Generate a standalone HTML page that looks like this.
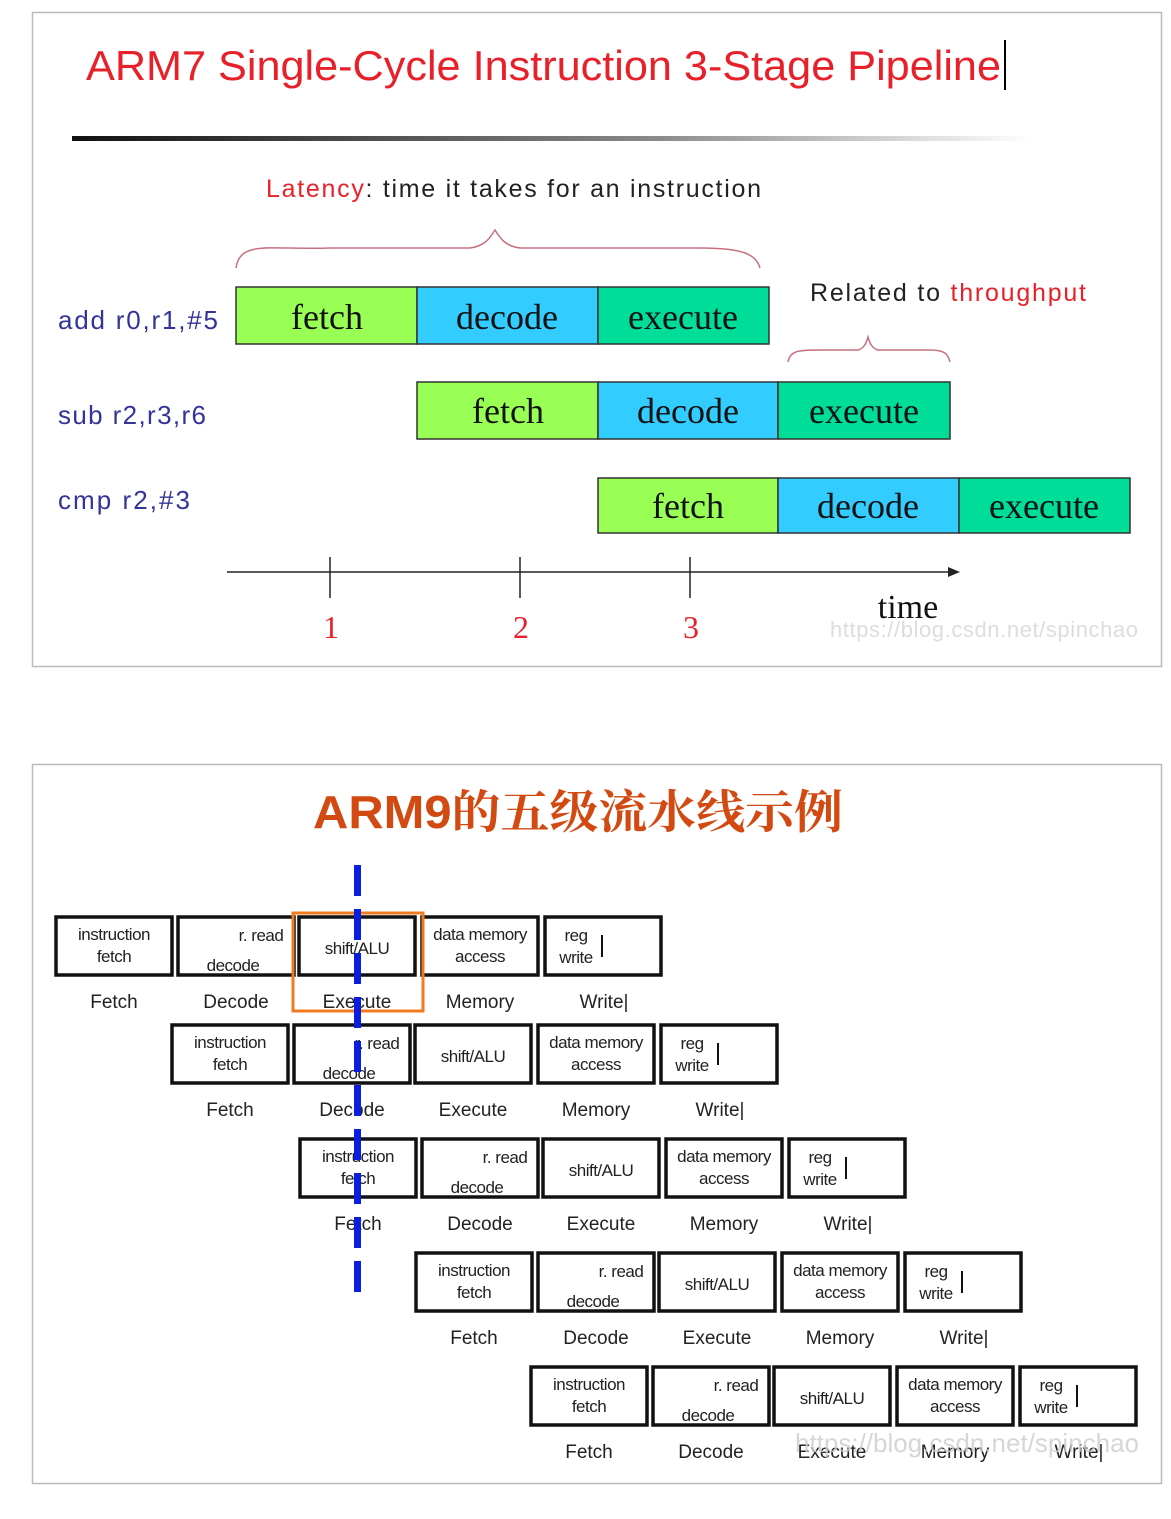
<!DOCTYPE html>
<html><head><meta charset="utf-8"><style>
html,body{margin:0;padding:0;background:#fff;}
svg{display:block;}
.b{fill:#fff;stroke:#111;stroke-width:3.5;}
.t{font-family:"Liberation Sans",sans-serif;font-size:17px;fill:#222;text-anchor:middle;letter-spacing:-0.5px;}
.l{font-family:"Liberation Sans",sans-serif;font-size:19px;fill:#222;text-anchor:middle;}
.s{font-family:"Liberation Serif",serif;font-size:36px;fill:#111;text-anchor:middle;}
.lab{font-family:"Liberation Sans",sans-serif;font-size:26px;fill:#333399;}
</style></head><body>
<svg width="1171" height="1519" viewBox="0 0 1171 1519" xmlns="http://www.w3.org/2000/svg">
<defs>
<linearGradient id="g" x1="0" x2="1"><stop offset="0" stop-color="#111"/><stop offset="0.6" stop-color="#888"/><stop offset="1" stop-color="#fff"/></linearGradient>
</defs>
<rect x="32.5" y="12.5" width="1129" height="654" fill="#fff" stroke="#bbb" stroke-width="1.5"/>
<text x="86" y="80" font-family="Liberation Sans,sans-serif" font-size="42" fill="#e8202a" textLength="915" lengthAdjust="spacingAndGlyphs">ARM7 Single-Cycle Instruction 3-Stage Pipeline</text>
<line x1="1005" y1="40" x2="1005" y2="90" stroke="#000" stroke-width="2"/>
<rect x="72" y="136" width="960" height="5" fill="url(#g)"/>
<text x="266" y="197" font-family="Liberation Sans,sans-serif" font-size="25" fill="#222" textLength="495" lengthAdjust="spacing"><tspan fill="#e8202a">Latency</tspan>: time it takes for an instruction</text>
<path d="M236 268 C240 240,270 250,330 248 L470 248 C485 246,490 238,495 230 C500 238,505 246,520 248 L700 248 C745 248,756 255,760 268" fill="none" stroke="#c87080" stroke-width="1.5"/>
<text x="810" y="301" font-family="Liberation Sans,sans-serif" font-size="25" fill="#222" textLength="276" lengthAdjust="spacing">Related to <tspan fill="#e8202a">throughput</tspan></text>
<path d="M788 362 C790 350,800 350,820 350 L858 350 C864 348,866 344,868 337 C870 344,872 348,878 350 L930 350 C945 350,948 354,950 362" fill="none" stroke="#c87080" stroke-width="1.5"/>
<g stroke="#333" stroke-width="1.5">
<rect x="236" y="287" width="181" height="57" fill="#99ff55"/><rect x="417" y="287" width="181" height="57" fill="#33ccff"/><rect x="598" y="287" width="171" height="57" fill="#00dd99"/>
<rect x="417" y="382" width="181" height="57" fill="#99ff55"/><rect x="598" y="382" width="180" height="57" fill="#33ccff"/><rect x="778" y="382" width="172" height="57" fill="#00dd99"/>
<rect x="598" y="478" width="180" height="55" fill="#99ff55"/><rect x="778" y="478" width="181" height="55" fill="#33ccff"/><rect x="959" y="478" width="171" height="55" fill="#00dd99"/>
</g>
<text class="s" x="327" y="329">fetch</text><text class="s" x="507" y="329" fill="#113">decode</text><text class="s" x="683" y="329">execute</text>
<text class="s" x="508" y="423">fetch</text><text class="s" x="688" y="423">decode</text><text class="s" x="864" y="423">execute</text>
<text class="s" x="688" y="518">fetch</text><text class="s" x="868" y="518">decode</text><text class="s" x="1044" y="518">execute</text>
<text class="lab" x="58" y="329" textLength="160">add r0,r1,#5</text>
<text class="lab" x="58" y="424" textLength="148">sub r2,r3,r6</text>
<text class="lab" x="58" y="509" textLength="132">cmp r2,#3</text>
<line x1="227" y1="572" x2="950" y2="572" stroke="#222" stroke-width="1.5"/>
<polygon points="960,572 948,567 948,577" fill="#222"/>
<g stroke="#222" stroke-width="1.5"><line x1="330" y1="557" x2="330" y2="598"/><line x1="520" y1="557" x2="520" y2="598"/><line x1="690" y1="557" x2="690" y2="598"/></g>
<g font-family="Liberation Serif,serif" font-size="32" fill="#e8202a" text-anchor="middle"><text x="331" y="638">1</text><text x="521" y="638">2</text><text x="691" y="638">3</text></g>
<text x="908" y="618" font-family="Liberation Serif,serif" font-size="34" fill="#111" text-anchor="middle">time</text>
<text x="830" y="637" font-family="Liberation Sans,sans-serif" font-size="22" fill="#ddd" textLength="308">https://blog.csdn.net/spinchao</text>

<rect x="32.5" y="764.5" width="1129" height="719" fill="#fff" stroke="#bbb" stroke-width="1.5"/>
<text x="313" y="828" font-family="Liberation Sans,'Noto Serif CJK SC',serif" font-size="46" font-weight="bold" fill="#d24a12" textLength="530" lengthAdjust="spacingAndGlyphs">ARM9<tspan font-family="'Noto Serif CJK SC',serif">的五级流水线示例</tspan></text>

<g transform="translate(56,917)">
<rect class="b" x="0" y="0" width="116" height="58"/><text class="t" x="58" y="23">instruction</text><text class="t" x="58" y="45">fetch</text><text class="l" x="58" y="91">Fetch</text>
<rect class="b" x="122" y="0" width="116" height="58"/><text class="t" x="177" y="54">decode</text><text class="t" x="205" y="24">r. read</text><text class="l" x="180" y="91">Decode</text>
<rect class="b" x="243" y="0" width="116" height="58"/><text class="t" x="301" y="37">shift/ALU</text><text class="l" x="301" y="91">Execute</text>
<rect class="b" x="366" y="0" width="116" height="58"/><text class="t" x="424" y="23">data memory</text><text class="t" x="424" y="45">access</text><text class="l" x="424" y="91">Memory</text>
<rect class="b" x="489" y="0" width="116" height="58"/><text class="t" x="520" y="24">reg</text><text class="t" x="520" y="46">write</text><line x1="546" y1="18" x2="546" y2="40" stroke="#111" stroke-width="2"/><text class="l" x="548" y="91">Write|</text>
</g>
<g transform="translate(172,1025)">
<rect class="b" x="0" y="0" width="116" height="58"/><text class="t" x="58" y="23">instruction</text><text class="t" x="58" y="45">fetch</text><text class="l" x="58" y="91">Fetch</text>
<rect class="b" x="122" y="0" width="116" height="58"/><text class="t" x="177" y="54">decode</text><text class="t" x="205" y="24">r. read</text><text class="l" x="180" y="91">Decode</text>
<rect class="b" x="243" y="0" width="116" height="58"/><text class="t" x="301" y="37">shift/ALU</text><text class="l" x="301" y="91">Execute</text>
<rect class="b" x="366" y="0" width="116" height="58"/><text class="t" x="424" y="23">data memory</text><text class="t" x="424" y="45">access</text><text class="l" x="424" y="91">Memory</text>
<rect class="b" x="489" y="0" width="116" height="58"/><text class="t" x="520" y="24">reg</text><text class="t" x="520" y="46">write</text><line x1="546" y1="18" x2="546" y2="40" stroke="#111" stroke-width="2"/><text class="l" x="548" y="91">Write|</text>
</g>
<g transform="translate(300,1139)">
<rect class="b" x="0" y="0" width="116" height="58"/><text class="t" x="58" y="23">instruction</text><text class="t" x="58" y="45">fetch</text><text class="l" x="58" y="91">Fetch</text>
<rect class="b" x="122" y="0" width="116" height="58"/><text class="t" x="177" y="54">decode</text><text class="t" x="205" y="24">r. read</text><text class="l" x="180" y="91">Decode</text>
<rect class="b" x="243" y="0" width="116" height="58"/><text class="t" x="301" y="37">shift/ALU</text><text class="l" x="301" y="91">Execute</text>
<rect class="b" x="366" y="0" width="116" height="58"/><text class="t" x="424" y="23">data memory</text><text class="t" x="424" y="45">access</text><text class="l" x="424" y="91">Memory</text>
<rect class="b" x="489" y="0" width="116" height="58"/><text class="t" x="520" y="24">reg</text><text class="t" x="520" y="46">write</text><line x1="546" y1="18" x2="546" y2="40" stroke="#111" stroke-width="2"/><text class="l" x="548" y="91">Write|</text>
</g>
<g transform="translate(416,1253)">
<rect class="b" x="0" y="0" width="116" height="58"/><text class="t" x="58" y="23">instruction</text><text class="t" x="58" y="45">fetch</text><text class="l" x="58" y="91">Fetch</text>
<rect class="b" x="122" y="0" width="116" height="58"/><text class="t" x="177" y="54">decode</text><text class="t" x="205" y="24">r. read</text><text class="l" x="180" y="91">Decode</text>
<rect class="b" x="243" y="0" width="116" height="58"/><text class="t" x="301" y="37">shift/ALU</text><text class="l" x="301" y="91">Execute</text>
<rect class="b" x="366" y="0" width="116" height="58"/><text class="t" x="424" y="23">data memory</text><text class="t" x="424" y="45">access</text><text class="l" x="424" y="91">Memory</text>
<rect class="b" x="489" y="0" width="116" height="58"/><text class="t" x="520" y="24">reg</text><text class="t" x="520" y="46">write</text><line x1="546" y1="18" x2="546" y2="40" stroke="#111" stroke-width="2"/><text class="l" x="548" y="91">Write|</text>
</g>
<g transform="translate(531,1367)">
<rect class="b" x="0" y="0" width="116" height="58"/><text class="t" x="58" y="23">instruction</text><text class="t" x="58" y="45">fetch</text><text class="l" x="58" y="91">Fetch</text>
<rect class="b" x="122" y="0" width="116" height="58"/><text class="t" x="177" y="54">decode</text><text class="t" x="205" y="24">r. read</text><text class="l" x="180" y="91">Decode</text>
<rect class="b" x="243" y="0" width="116" height="58"/><text class="t" x="301" y="37">shift/ALU</text><text class="l" x="301" y="91">Execute</text>
<rect class="b" x="366" y="0" width="116" height="58"/><text class="t" x="424" y="23">data memory</text><text class="t" x="424" y="45">access</text><text class="l" x="424" y="91">Memory</text>
<rect class="b" x="489" y="0" width="116" height="58"/><text class="t" x="520" y="24">reg</text><text class="t" x="520" y="46">write</text><line x1="546" y1="18" x2="546" y2="40" stroke="#111" stroke-width="2"/><text class="l" x="548" y="91">Write|</text>
</g>
<text x="795" y="1452" font-family="Liberation Sans,sans-serif" font-size="26" fill="#ccc" opacity="0.8">https://blog.csdn.net/spinchao</text>
<rect x="293" y="913" width="130" height="98" fill="none" stroke="#f07a20" stroke-width="3"/>
<line x1="357.5" y1="865" x2="357.5" y2="1296" stroke="#0a1ee0" stroke-width="7" stroke-dasharray="31,13"/>
</svg>
</body></html>
